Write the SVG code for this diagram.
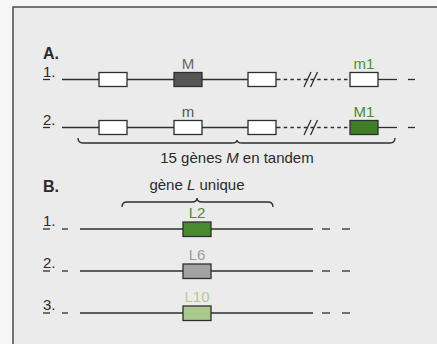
<svg xmlns="http://www.w3.org/2000/svg" width="437" height="344" viewBox="0 0 437 344">
  <style>
    text { font-family: "Liberation Sans", Arial, sans-serif; font-size: 15px; fill: #2a2a2a; }
    .head { font-weight: bold; font-size: 16px; }
    .mid { text-anchor: middle; }
    .ln { stroke: #2e2e2e; stroke-width: 1.3; fill: none; }
    .dash { stroke: #2e2e2e; stroke-width: 1.3; fill: none; stroke-dasharray: 3.5 3.2; }
    .box { stroke: #2e2e2e; stroke-width: 1.3; }
    .brace { stroke: #2e2e2e; stroke-width: 1.4; fill: none; }
  </style>

  <!-- page and panel -->
  <rect x="0" y="0" width="437" height="344" fill="#f6f6f6"/>
  <rect x="13" y="7" width="430" height="345" fill="#ebebeb" stroke="#4a4a4a" stroke-width="1.5"/>

  <!-- section A -->
  <text class="head" x="43" y="59">A.</text>

  <g id="connectors">
    <!-- A, row 1 -->
    <line class="ln" x1="43" y1="79.5" x2="50" y2="79.5"/>
    <line class="ln" x1="62" y1="79.5" x2="277" y2="79.5"/>
    <line class="dash" x1="277" y1="79.5" x2="350" y2="79.5"/>
    <line class="ln" x1="304" y1="87" x2="311" y2="72"/>
    <line class="ln" x1="310.5" y1="87" x2="317.5" y2="72"/>
    <line class="ln" x1="378" y1="79.5" x2="397" y2="79.5"/>
    <line class="ln" x1="408" y1="79.5" x2="415" y2="79.5"/>

    <!-- A, row 2 -->
    <line class="ln" x1="43" y1="127.5" x2="50" y2="127.5"/>
    <line class="ln" x1="62" y1="127.5" x2="277" y2="127.5"/>
    <line class="dash" x1="277" y1="127.5" x2="350" y2="127.5"/>
    <line class="ln" x1="304" y1="135" x2="311" y2="120"/>
    <line class="ln" x1="310.5" y1="135" x2="317.5" y2="120"/>
    <line class="ln" x1="378" y1="127.5" x2="397" y2="127.5"/>
    <line class="ln" x1="408" y1="127.5" x2="415" y2="127.5"/>

    <!-- B rows -->
    <g>
      <line class="ln" x1="43" y1="229" x2="50" y2="229"/>
      <line class="ln" x1="62" y1="229" x2="68" y2="229"/>
      <line class="ln" x1="80" y1="229" x2="313" y2="229"/>
      <line class="ln" x1="322" y1="229" x2="330" y2="229"/>
      <line class="ln" x1="342" y1="229" x2="350" y2="229"/>
    </g>
    <g>
      <line class="ln" x1="43" y1="271" x2="50" y2="271"/>
      <line class="ln" x1="62" y1="271" x2="68" y2="271"/>
      <line class="ln" x1="80" y1="271" x2="313" y2="271"/>
      <line class="ln" x1="322" y1="271" x2="330" y2="271"/>
      <line class="ln" x1="342" y1="271" x2="350" y2="271"/>
    </g>
    <g>
      <line class="ln" x1="43" y1="313" x2="50" y2="313"/>
      <line class="ln" x1="62" y1="313" x2="68" y2="313"/>
      <line class="ln" x1="80" y1="313" x2="313" y2="313"/>
      <line class="ln" x1="322" y1="313" x2="330" y2="313"/>
      <line class="ln" x1="342" y1="313" x2="350" y2="313"/>
    </g>
  </g>

  <!-- row labels -->
  <text x="43" y="76.5">1.</text>
  <text x="43" y="124.5">2.</text>

  <!-- A row 1 genes -->
  <g id="a1-g1"><rect class="box" x="99" y="72.5" width="28" height="14" fill="#ffffff"/></g>
  <g id="a1-M">
    <text class="mid" x="188" y="69" style="fill:#666666">M</text>
    <rect class="box" x="174" y="72.5" width="28" height="14" fill="#555555"/>
  </g>
  <g id="a1-g3"><rect class="box" x="248" y="72.5" width="28" height="14" fill="#ffffff"/></g>
  <g id="a1-m1">
    <text class="mid" x="364" y="69" style="fill:#5a8c2c">m1</text>
    <rect class="box" x="350" y="72.5" width="28" height="14" fill="#ffffff"/>
  </g>

  <!-- A row 2 genes -->
  <g id="a2-g1"><rect class="box" x="99" y="120.5" width="28" height="14" fill="#ffffff"/></g>
  <g id="a2-m">
    <text class="mid" x="188" y="117" style="fill:#555555">m</text>
    <rect class="box" x="174" y="120.5" width="28" height="14" fill="#ffffff"/>
  </g>
  <g id="a2-g3"><rect class="box" x="248" y="120.5" width="28" height="14" fill="#ffffff"/></g>
  <g id="a2-M1">
    <text class="mid" x="364" y="117" style="fill:#4a8a2a">M1</text>
    <rect class="box" x="350" y="120.5" width="28" height="14" fill="#3f7e27"/>
  </g>

  <!-- tandem brace -->
  <g id="tandem">
    <path class="brace" d="M78,138 Q78,143 83,143 L232,143 Q237,143 237,140 Q237,143 242,143 L390,143 Q395,143 395,138"/>
    <text class="mid" x="237" y="163">15 gènes <tspan font-style="italic">M</tspan> en tandem</text>
  </g>

  <!-- section B -->
  <text class="head" x="43" y="192">B.</text>
  <g id="unique">
    <text class="mid" x="197" y="190">gène <tspan font-style="italic">L</tspan> unique</text>
    <path class="brace" d="M122,207 Q122,202 127,202 L192,202 Q197,202 197,198 Q197,202 202,202 L268,202 Q273,202 273,207"/>
  </g>

  <text x="43" y="226">1.</text>
  <text x="43" y="268">2.</text>
  <text x="43" y="310">3.</text>

  <g id="b1-L2">
    <text class="mid" x="197" y="218" style="fill:#4e8c2e">L2</text>
    <rect class="box" x="183" y="222" width="28" height="14.5" fill="#4a8a2f"/>
  </g>
  <g id="b2-L6">
    <text class="mid" x="197" y="260" style="fill:#9c9c9c">L6</text>
    <rect class="box" x="183" y="264" width="28" height="14.5" fill="#a2a2a2"/>
  </g>
  <g id="b3-L10">
    <text class="mid" x="197" y="302" style="fill:#b2ca94">L10</text>
    <rect class="box" x="183" y="306" width="28" height="14.5" fill="#aac98f"/>
  </g>
</svg>
